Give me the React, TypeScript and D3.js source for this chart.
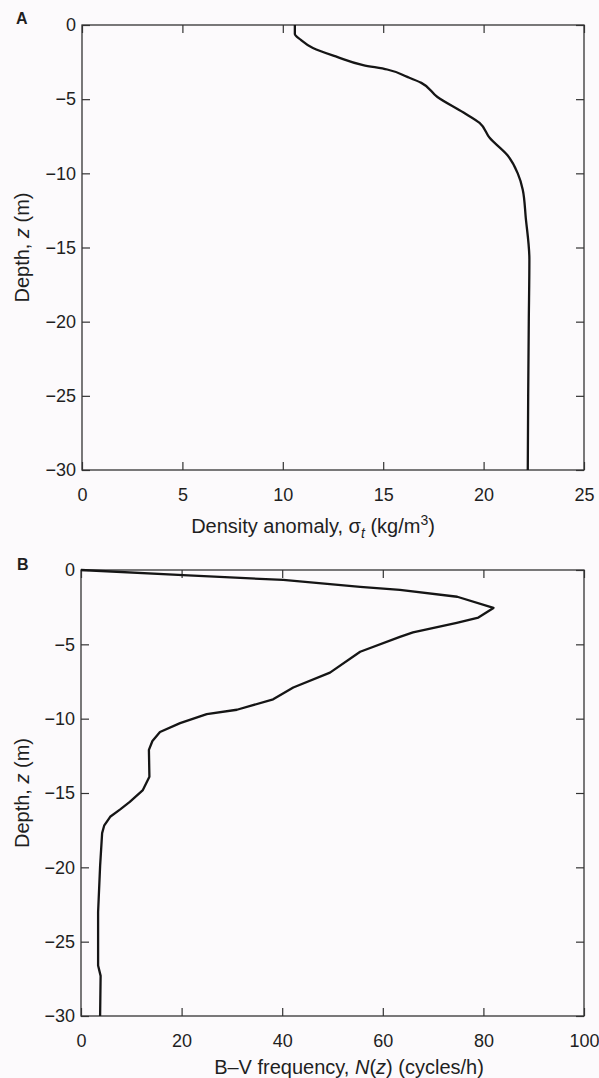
import { useEffect, useRef } from "react";
import * as d3 from "d3";

// Panel A: density anomaly profile
const densityDepth = [0, -0.6, -1.0, -1.55, -2.15, -2.7, -3.0, -3.5, -3.9, -4.85, -5.9, -6.6, -7.6, -8.8, -10.0, -11.1, -13.0, -15.8, -20, -25, -30];
const densityValues = [10.6, 10.6, 10.9, 11.5, 12.7, 14.0, 15.2, 16.2, 16.9, 17.7, 19.0, 19.8, 20.3, 21.2, 21.7, 21.95, 22.1, 22.28, 22.25, 22.22, 22.2];

// Panel B: Brunt–Väisälä frequency profile
const bvDepth = [0, -0.34, -0.67, -1.14, -1.34, -1.8, -2.55, -3.2, -3.55, -4.2, -4.5, -5.5, -6.9, -7.9, -8.7, -9.4, -9.7, -10.3, -10.9, -11.5, -12.1, -13.9, -14.8, -15.6, -16.1, -16.6, -17.2, -17.7, -19.9, -23, -26.6, -27.3, -30];
const bvValues = [0, 20.3, 40.2, 55.5, 63.4, 74.8, 82, 79, 74.7, 66, 63.4, 55.5, 49.5, 42.2, 38.2, 31, 25, 19.7, 15.7, 14.2, 13.5, 13.6, 12.3, 9.7, 7.8, 5.8, 4.6, 4.2, 3.8, 3.4, 3.4, 3.9, 3.8];

const depthTicks = [0, -5, -10, -15, -20, -25, -30];
const densityTicks = [0, 5, 10, 15, 20, 25];
const bvTicks = [0, 20, 40, 60, 80, 100];

const FONT = "'Liberation Sans', Arial, Helvetica, sans-serif";
const INK = "#1f1f1f";

export default function App() {
  const ref = useRef<SVGSVGElement>(null);

  useEffect(() => {
    if (!ref.current) return;
    const svg = d3.select(ref.current);
    svg.selectAll("*").remove();

    svg.append("rect").attr("width", 599).attr("height", 1078).attr("fill", "#fcfafc");

    const drawPanel = (opts: {
      top: number;
      bottom: number;
      left: number;
      right: number;
      xDomain: [number, number];
      xTicks: number[];
      xs: number[];
      zs: number[];
      letter: string;
      letterX: number;
      letterY: number;
      xLabelX: number;
      xLabelY: number;
      xLabel: (t: any) => void;
      curve: any;
    }) => {
      const x = d3.scaleLinear().domain(opts.xDomain).range([opts.left, opts.right]);
      const y = d3.scaleLinear().domain([0, -30]).range([opts.top, opts.bottom]);
      const g = svg.append("g");

      const styleAxis = (a: any) => {
        a.select(".domain").remove();
        a.selectAll("line").attr("stroke", "#333").attr("stroke-width", 1.2);
        a.selectAll("text").attr("fill", INK).style("font-family", FONT).style("font-size", "18px");
      };

      g.append("g")
        .attr("transform", `translate(0,${opts.bottom})`)
        .call(d3.axisBottom(x).tickValues(opts.xTicks).tickSize(-8).tickPadding(18).tickFormat(d3.format("d")))
        .call(styleAxis);
      g.append("g")
        .attr("transform", `translate(0,${opts.top})`)
        .call(d3.axisTop(x).tickValues(opts.xTicks).tickSize(-8).tickFormat(() => ""))
        .call(styleAxis);
      g.append("g")
        .attr("transform", `translate(${opts.left},0)`)
        .call(d3.axisLeft(y).tickValues(depthTicks).tickSize(-8).tickPadding(6).tickFormat(d3.format("d")))
        .call(styleAxis);
      g.append("g")
        .attr("transform", `translate(${opts.right},0)`)
        .call(d3.axisRight(y).tickValues(depthTicks).tickSize(-8).tickFormat(() => ""))
        .call(styleAxis);

      g.append("rect")
        .attr("x", opts.left)
        .attr("y", opts.top)
        .attr("width", opts.right - opts.left)
        .attr("height", opts.bottom - opts.top)
        .attr("fill", "none")
        .attr("stroke", "#333")
        .attr("stroke-width", 1.3);

      const line = d3
        .line<number>()
        .x((d) => x(opts.xs[d]))
        .y((d) => y(opts.zs[d]))
        .curve(opts.curve);
      g.append("path")
        .attr("d", line(d3.range(opts.xs.length)))
        .attr("fill", "none")
        .attr("stroke", "#151515")
        .attr("stroke-width", 2.3)
        .attr("stroke-linejoin", "round");

      g.append("text")
        .attr("x", opts.letterX)
        .attr("y", opts.letterY)
        .attr("fill", INK)
        .style("font-family", FONT)
        .style("font-size", "16px")
        .style("font-weight", "bold")
        .text(opts.letter);

      // y label
      const yl = g
        .append("text")
        .attr("transform", `translate(29,${(opts.top + opts.bottom) / 2}) rotate(-90)`)
        .attr("text-anchor", "middle")
        .attr("fill", INK)
        .style("font-family", FONT)
        .style("font-size", "20px");
      yl.append("tspan").text("Depth, ");
      yl.append("tspan").style("font-style", "italic").text("z");
      yl.append("tspan").text(" (m)");

      const xl = g
        .append("text")
        .attr("x", opts.xLabelX)
        .attr("y", opts.xLabelY)
        .attr("text-anchor", "middle")
        .attr("fill", INK)
        .style("font-family", FONT)
        .style("font-size", "20px");
      opts.xLabel(xl);
    };

    drawPanel({
      top: 25,
      bottom: 470,
      left: 82,
      right: 584,
      xDomain: [0, 25],
      xTicks: densityTicks,
      xs: densityValues,
      zs: densityDepth,
      letter: "A",
      letterX: 16,
      letterY: 24,
      xLabelX: 313,
      xLabelY: 533,
      curve: d3.curveMonotoneY,
      xLabel: (t) => {
        t.append("tspan").text("Density anomaly, σ");
        t.append("tspan").attr("dy", 5).style("font-style", "italic").style("font-size", "14px").text("t");
        t.append("tspan").attr("dy", -5).text(" (kg/m");
        t.append("tspan").attr("dy", -8).style("font-size", "14px").text("3");
        t.append("tspan").attr("dy", 8).text(")");
      },
    });

    drawPanel({
      top: 570,
      bottom: 1016,
      left: 81,
      right: 584,
      xDomain: [0, 100],
      xTicks: bvTicks,
      xs: bvValues,
      zs: bvDepth,
      letter: "B",
      letterX: 17,
      letterY: 570,
      xLabelX: 349,
      xLabelY: 1074,
      curve: d3.curveLinear,
      xLabel: (t) => {
        t.append("tspan").text("B–V frequency, ");
        t.append("tspan").style("font-style", "italic").text("N");
        t.append("tspan").text("(");
        t.append("tspan").style("font-style", "italic").text("z");
        t.append("tspan").text(") (cycles/h)");
      },
    });
  }, []);

  return (
    <svg
      ref={ref}
      width={599}
      height={1078}
      style={{ position: "absolute", left: 0, top: 0, display: "block" }}
    />
  );
}
